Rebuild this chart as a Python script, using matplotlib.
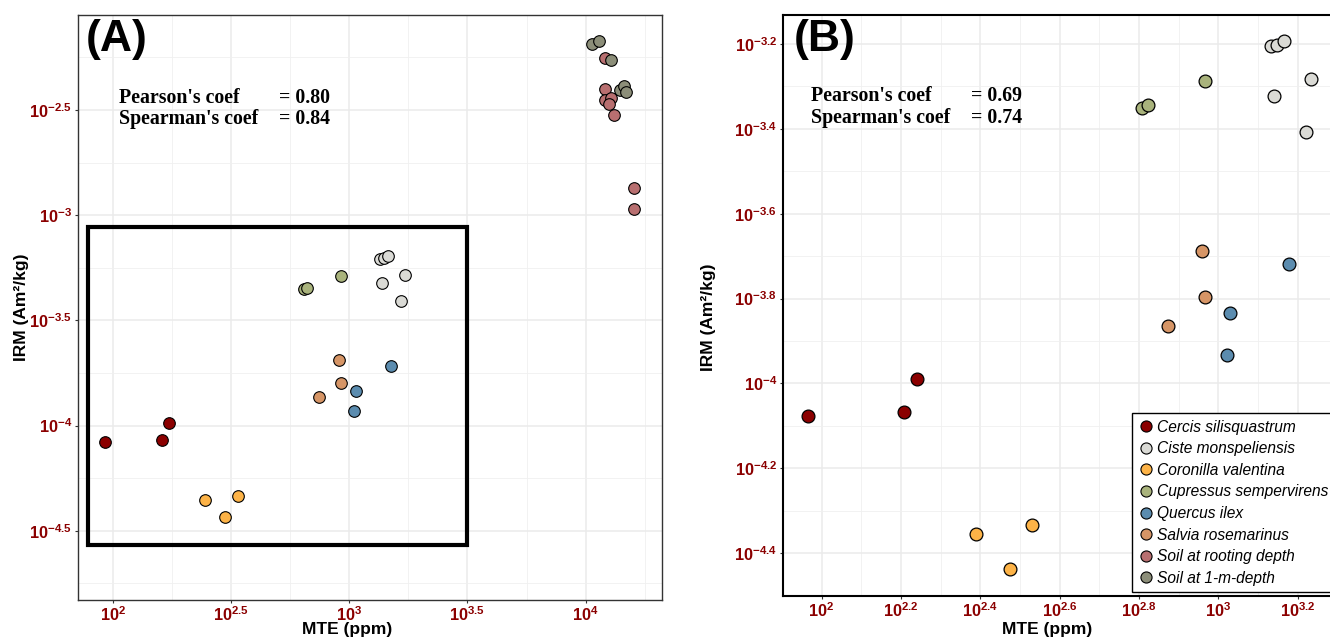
import numpy as np
import matplotlib
matplotlib.use("Agg")
import matplotlib.pyplot as plt
from matplotlib.lines import Line2D
from matplotlib.patches import Rectangle
from matplotlib.ticker import FixedLocator, FixedFormatter, NullFormatter

plt.rcParams['font.family'] = ['Liberation Sans', 'DejaVu Sans']
plt.rcParams['mathtext.fontset'] = 'custom'
plt.rcParams['mathtext.rm'] = 'Liberation Sans'
plt.rcParams['mathtext.bf'] = 'Liberation Sans:bold'
plt.rcParams['mathtext.it'] = 'Liberation Sans:italic'

# ---------------- data (log10 values) ----------------
species = ["Cercis silisquastrum", "Ciste monspeliensis", "Coronilla valentina",
           "Cupressus sempervirens", "Quercus ilex", "Salvia rosemarinus",
           "Soil at rooting depth", "Soil at 1-m-depth"]
colors = ["#8B0000", "#DADAD5", "#FDB347", "#A9B37C", "#5B8CAF", "#D69566",
          "#B86F70", "#8C8E79"]

cercis_mte = [1.966, 2.208, 2.240]
cercis_irm = [-4.076, -4.068, -3.990]
ciste_mte = [3.132, 3.147, 3.166, 3.234, 3.139, 3.220]
ciste_irm = [-3.206, -3.202, -3.194, -3.283, -3.323, -3.407]
coronilla_mte = [2.389, 2.530, 2.476]
coronilla_irm = [-4.354, -4.333, -4.436]
cupressus_mte = [2.807, 2.823, 2.965]
cupressus_irm = [-3.351, -3.345, -3.288]
quercus_mte = [3.178, 3.030, 3.021]
quercus_irm = [-3.718, -3.834, -3.933]
salvia_mte = [2.958, 2.965, 2.873]
salvia_irm = [-3.689, -3.797, -3.864]
soil_root_mte = [4.080, 4.080, 4.080, 4.107, 4.100, 4.120, 4.206, 4.206]
soil_root_irm = [-2.253, -2.402, -2.452, -2.441, -2.473, -2.524, -2.870, -2.971]
soil_1m_mte = [4.027, 4.057, 4.107, 4.146, 4.162, 4.172]
soil_1m_irm = [-2.185, -2.171, -2.261, -2.405, -2.386, -2.413]

mte_sets = [cercis_mte, ciste_mte, coronilla_mte, cupressus_mte, quercus_mte,
            salvia_mte, soil_root_mte, soil_1m_mte]
irm_sets = [cercis_irm, ciste_irm, coronilla_irm, cupressus_irm, quercus_irm,
            salvia_irm, soil_root_irm, soil_1m_irm]

# ticks
a_xticks = [2, 2.5, 3, 3.5, 4]
a_xlabels = [r'$\mathbf{10^{2}}$', r'$\mathbf{10^{2.5}}$', r'$\mathbf{10^{3}}$',
             r'$\mathbf{10^{3.5}}$', r'$\mathbf{10^{4}}$']
a_yticks = [-2.5, -3, -3.5, -4, -4.5]
a_ylabels = [r'$\mathbf{10^{-2.5}}$', r'$\mathbf{10^{-3}}$', r'$\mathbf{10^{-3.5}}$',
             r'$\mathbf{10^{-4}}$', r'$\mathbf{10^{-4.5}}$']
b_xticks = [2, 2.2, 2.4, 2.6, 2.8, 3, 3.2]
b_xlabels = [r'$\mathbf{10^{2}}$', r'$\mathbf{10^{2.2}}$', r'$\mathbf{10^{2.4}}$',
             r'$\mathbf{10^{2.6}}$', r'$\mathbf{10^{2.8}}$', r'$\mathbf{10^{3}}$',
             r'$\mathbf{10^{3.2}}$']
b_yticks = [-3.2, -3.4, -3.6, -3.8, -4, -4.2, -4.4]
b_ylabels = [r'$\mathbf{10^{-3.2}}$', r'$\mathbf{10^{-3.4}}$', r'$\mathbf{10^{-3.6}}$',
             r'$\mathbf{10^{-3.8}}$', r'$\mathbf{10^{-4}}$', r'$\mathbf{10^{-4.2}}$',
             r'$\mathbf{10^{-4.4}}$']

coef_a = ("0.80", "0.84")
coef_b = ("0.69", "0.74")

# ---------------- figure ----------------
W, H = 1330, 639
fig = plt.figure(figsize=(W / 100, H / 100), dpi=100)
fig.patch.set_facecolor('white')


def px_axes(l, t, r, b):
    return fig.add_axes([l / W, 1 - b / H, (r - l) / W, (b - t) / H])


axA = px_axes(77.7, 15.3, 662.3, 600.0)
axB = px_axes(782.7, 15.3, 1333.5, 595.7)

tick_red = '#8B0000'


def style(ax, xt, xl, yt, yl, xminor, yminor, spine_col, spine_lw):
    ax.set_xscale('log')
    ax.set_yscale('log')
    ax.xaxis.set_major_locator(FixedLocator([10 ** v for v in xt]))
    ax.xaxis.set_major_formatter(FixedFormatter(xl))
    ax.yaxis.set_major_locator(FixedLocator([10 ** v for v in yt]))
    ax.yaxis.set_major_formatter(FixedFormatter(yl))
    ax.xaxis.set_minor_locator(FixedLocator([10 ** v for v in xminor]))
    ax.yaxis.set_minor_locator(FixedLocator([10 ** v for v in yminor]))
    ax.xaxis.set_minor_formatter(NullFormatter())
    ax.yaxis.set_minor_formatter(NullFormatter())
    ax.grid(True, which='major', color='#EBEBEB', lw=1.1, zorder=0)
    ax.grid(True, which='minor', color='#F0F0F0', lw=0.6, zorder=0)
    ax.set_axisbelow(True)
    ax.tick_params(which='major', length=2.5, width=0.8, color='#333333',
                   labelcolor=tick_red, labelsize=11.8, pad=1.5)
    ax.tick_params(which='minor', length=0)
    for s in ax.spines.values():
        s.set_color(spine_col)
        s.set_linewidth(spine_lw)


style(axA, a_xticks, a_xlabels, a_yticks, a_ylabels,
      [2.25, 2.75, 3.25, 3.75, 4.25],
      [-2.25, -2.75, -3.25, -3.75, -4.25, -4.75], '#333333', 1.0)
style(axB, b_xticks, b_xlabels, b_yticks, b_ylabels,
      [2.1, 2.3, 2.5, 2.7, 2.9, 3.1],
      [-3.3, -3.5, -3.7, -3.9, -4.1, -4.3], 'black', 1.5)

axA.set_xlim(10 ** 1.852, 10 ** 4.324)
axA.set_ylim(10 ** -4.829, 10 ** -2.05)
axB.set_xlim(10 ** 1.902, 10 ** 3.29)
axB.set_ylim(10 ** -4.5, 10 ** -3.1325)

# points
for mx, iy, c in zip(mte_sets, irm_sets, colors):
    axA.scatter(10 ** np.array(mx), 10 ** np.array(iy), s=70, c=c,
                edgecolors='black', linewidths=0.8, zorder=3)
for mx, iy, c in zip(mte_sets[:6], irm_sets[:6], colors[:6]):
    axB.scatter(10 ** np.array(mx), 10 ** np.array(iy), s=85, c=c,
                edgecolors='black', linewidths=0.9, zorder=3)

# zoom rectangle in A
rx0, rx1, ry0, ry1 = 1.897, 3.5, -4.568, -3.056
axA.add_patch(Rectangle((10 ** rx0, 10 ** ry0), 10 ** rx1 - 10 ** rx0,
                        10 ** ry1 - 10 ** ry0, fill=False, ec='black',
                        lw=3.0, zorder=4))

# labels
for ax, xc, yc, xlc, xly in [(axA, -0.0953, 0.5, 0.461, -0.051),
                             (axB, -0.1356, 0.48, 0.48, -0.059)]:
    ax.set_ylabel('IRM (Am²/kg)', fontsize=12.5, fontweight='bold', va='center')
    ax.yaxis.set_label_coords(xc, yc)
    ax.set_xlabel('MTE (ppm)', fontsize=12.5, fontweight='bold', va='center')
    ax.xaxis.set_label_coords(xlc, xly)


def ftext(x, y, s, **kw):
    fig.text(x / W, 1 - y / H, s, **kw)


ftext(86, 40, '(A)', fontsize=32, fontweight='bold', va='center', ha='left')
ftext(794, 40, '(B)', fontsize=32, fontweight='bold', va='center', ha='left')

serif = dict(family=['Liberation Serif', 'DejaVu Serif'], fontweight='bold',
             fontsize=14.3, va='baseline', ha='left')
ftext(119, 103.3, "Pearson's coef", **serif)
ftext(279, 103.3, "= " + coef_a[0], **serif)
ftext(119, 124.3, "Spearman's coef", **serif)
ftext(279, 124.3, "= " + coef_a[1], **serif)
ftext(811, 101, "Pearson's coef", **serif)
ftext(971, 101, "= " + coef_b[0], **serif)
ftext(811, 123, "Spearman's coef", **serif)
ftext(971, 123, "= " + coef_b[1], **serif)

# legend in B
handles = [Line2D([], [], ls='none', marker='o', markersize=8, mfc=c,
                  mec='black', mew=0.8) for c in colors]
leg = axB.legend(handles, species, loc='upper left',
                 bbox_to_anchor=(1131.7 / W, 1 - 413.3 / H),
                 bbox_transform=fig.transFigure, prop=dict(style='italic', size=11.2),
                 frameon=True, fancybox=False, framealpha=1, edgecolor='black',
                 borderpad=0.42, labelspacing=0.42, handletextpad=0.2,
                 handlelength=1.0, borderaxespad=0)
leg.get_frame().set_linewidth(1.0)
leg.set_zorder(5)

fig.savefig('out.png', dpi=100, facecolor='white')
